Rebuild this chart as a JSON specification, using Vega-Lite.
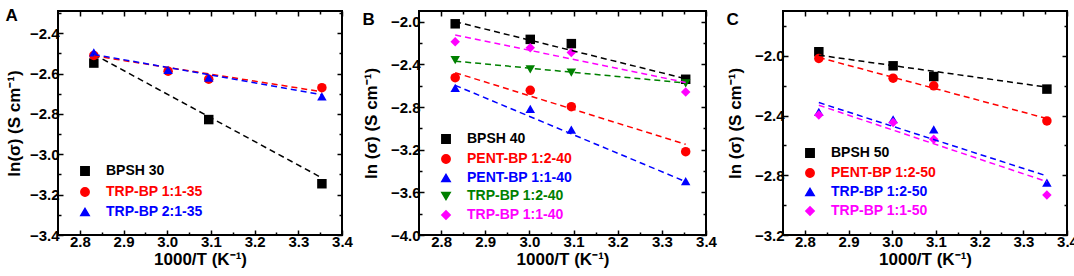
{
  "$schema": "https://vega.github.io/schema/vega-lite/v6.json",
  "padding": {"left": 4, "top": 5, "right": 10, "bottom": 0},
  "spacing": 7,
  "resolve": {"scale": {"color": "independent", "shape": "independent"}, "legend": {"color": "independent", "shape": "independent"}},
  "datasets": {
    "A_pts": [
      {"s": "BPSH 30", "x": 2.832, "y": -2.548},
      {"s": "BPSH 30", "x": 3.095, "y": -2.828},
      {"s": "BPSH 30", "x": 3.354, "y": -3.146},
      {"s": "TRP-BP 1:1-35", "x": 2.832, "y": -2.51},
      {"s": "TRP-BP 1:1-35", "x": 3.002, "y": -2.588},
      {"s": "TRP-BP 1:1-35", "x": 3.095, "y": -2.628},
      {"s": "TRP-BP 1:1-35", "x": 3.354, "y": -2.67},
      {"s": "TRP-BP 2:1-35", "x": 2.832, "y": -2.495},
      {"s": "TRP-BP 2:1-35", "x": 3.002, "y": -2.582},
      {"s": "TRP-BP 2:1-35", "x": 3.095, "y": -2.62},
      {"s": "TRP-BP 2:1-35", "x": 3.354, "y": -2.713}
    ],
    "A_fit": [
      {"s": "BPSH 30", "x": 2.832, "y": -2.505},
      {"s": "BPSH 30", "x": 3.354, "y": -3.117},
      {"s": "TRP-BP 1:1-35", "x": 2.832, "y": -2.512},
      {"s": "TRP-BP 1:1-35", "x": 3.354, "y": -2.69},
      {"s": "TRP-BP 2:1-35", "x": 2.832, "y": -2.505},
      {"s": "TRP-BP 2:1-35", "x": 3.354, "y": -2.705}
    ],
    "B_pts": [
      {"s": "BPSH 40", "x": 2.832, "y": -2.02},
      {"s": "BPSH 40", "x": 3.002, "y": -2.166},
      {"s": "BPSH 40", "x": 3.095, "y": -2.206},
      {"s": "BPSH 40", "x": 3.354, "y": -2.54},
      {"s": "PENT-BP 1:2-40", "x": 2.832, "y": -2.525},
      {"s": "PENT-BP 1:2-40", "x": 3.002, "y": -2.644},
      {"s": "PENT-BP 1:2-40", "x": 3.095, "y": -2.797},
      {"s": "PENT-BP 1:2-40", "x": 3.354, "y": -3.219},
      {"s": "PENT-BP 1:1-40", "x": 2.832, "y": -2.62},
      {"s": "PENT-BP 1:1-40", "x": 3.002, "y": -2.818},
      {"s": "PENT-BP 1:1-40", "x": 3.095, "y": -3.012},
      {"s": "PENT-BP 1:1-40", "x": 3.354, "y": -3.495},
      {"s": "TRP-BP 1:2-40", "x": 2.832, "y": -2.36},
      {"s": "TRP-BP 1:2-40", "x": 3.002, "y": -2.447},
      {"s": "TRP-BP 1:2-40", "x": 3.095, "y": -2.478},
      {"s": "TRP-BP 1:2-40", "x": 3.354, "y": -2.578},
      {"s": "TRP-BP 1:1-40", "x": 2.832, "y": -2.188},
      {"s": "TRP-BP 1:1-40", "x": 3.002, "y": -2.244},
      {"s": "TRP-BP 1:1-40", "x": 3.095, "y": -2.29},
      {"s": "TRP-BP 1:1-40", "x": 3.354, "y": -2.66}
    ],
    "B_fit": [
      {"s": "BPSH 40", "x": 2.832, "y": -2.0},
      {"s": "BPSH 40", "x": 3.354, "y": -2.535},
      {"s": "PENT-BP 1:2-40", "x": 2.832, "y": -2.478},
      {"s": "PENT-BP 1:2-40", "x": 3.354, "y": -3.15},
      {"s": "PENT-BP 1:1-40", "x": 2.832, "y": -2.597},
      {"s": "PENT-BP 1:1-40", "x": 3.354, "y": -3.5},
      {"s": "TRP-BP 1:2-40", "x": 2.832, "y": -2.37},
      {"s": "TRP-BP 1:2-40", "x": 3.354, "y": -2.575},
      {"s": "TRP-BP 1:1-40", "x": 2.832, "y": -2.125},
      {"s": "TRP-BP 1:1-40", "x": 3.354, "y": -2.57}
    ],
    "C_pts": [
      {"s": "BPSH 50", "x": 2.832, "y": -1.973},
      {"s": "BPSH 50", "x": 3.002, "y": -2.067},
      {"s": "BPSH 50", "x": 3.095, "y": -2.139},
      {"s": "BPSH 50", "x": 3.354, "y": -2.223},
      {"s": "PENT-BP 1:2-50", "x": 2.832, "y": -2.018},
      {"s": "PENT-BP 1:2-50", "x": 3.002, "y": -2.15},
      {"s": "PENT-BP 1:2-50", "x": 3.095, "y": -2.201},
      {"s": "PENT-BP 1:2-50", "x": 3.354, "y": -2.436},
      {"s": "TRP-BP 1:2-50", "x": 2.832, "y": -2.375},
      {"s": "TRP-BP 1:2-50", "x": 3.002, "y": -2.425},
      {"s": "TRP-BP 1:2-50", "x": 3.095, "y": -2.492},
      {"s": "TRP-BP 1:2-50", "x": 3.354, "y": -2.849},
      {"s": "TRP-BP 1:1-50", "x": 2.832, "y": -2.396},
      {"s": "TRP-BP 1:1-50", "x": 3.002, "y": -2.447},
      {"s": "TRP-BP 1:1-50", "x": 3.095, "y": -2.559},
      {"s": "TRP-BP 1:1-50", "x": 3.354, "y": -2.932}
    ],
    "C_fit": [
      {"s": "BPSH 50", "x": 2.832, "y": -1.996},
      {"s": "BPSH 50", "x": 3.354, "y": -2.21},
      {"s": "PENT-BP 1:2-50", "x": 2.832, "y": -2.011},
      {"s": "PENT-BP 1:2-50", "x": 3.354, "y": -2.42},
      {"s": "TRP-BP 1:2-50", "x": 2.832, "y": -2.313},
      {"s": "TRP-BP 1:2-50", "x": 3.354, "y": -2.805},
      {"s": "TRP-BP 1:1-50", "x": 2.832, "y": -2.331},
      {"s": "TRP-BP 1:1-50", "x": 3.354, "y": -2.843}
    ]
  },
  "hconcat": [
    {
      "width": 284, "height": 224,
      "title": {"text": "A"},
      "layer": [
        {
          "data": {"name": "A_pts"},
          "mark": {"type": "point", "filled": true, "size": 90, "opacity": 1},
          "encoding": {
            "x": {"field": "x", "type": "quantitative", "scale": {"domain": [2.75, 3.4], "nice": false, "zero": false},
              "axis": {"orient": "bottom", "title": "1000/T (K⁻¹)", "titlePadding": 0, "values": [2.8, 2.85, 2.9, 2.95, 3.0, 3.05, 3.1, 3.15, 3.2, 3.25, 3.3, 3.35, 3.4],
                "labelExpr": "abs(datum.value*10-round(datum.value*10))<0.001 ? format(datum.value,'.1f') : ''",
                "tickSize": {"condition": {"test": "abs(datum.value*10-round(datum.value*10))<0.001", "value": -5}, "value": -3}}},
            "y": {"field": "y", "type": "quantitative", "scale": {"domain": [-3.4, -2.29], "nice": false, "zero": false},
              "axis": {"orient": "left", "title": "ln(σ) (S cm⁻¹)", "values": [-3.4, -3.3, -3.2, -3.1, -3.0, -2.9, -2.8, -2.7, -2.6, -2.5, -2.4, -2.3],
                "labelExpr": "abs(datum.value*5-round(datum.value*5))<0.001 ? format(datum.value,'.1f') : ''",
                "tickSize": {"condition": {"test": "abs(datum.value*5-round(datum.value*5))<0.001", "value": -5}, "value": -3}}},
            "color": {"field": "s", "type": "nominal", "sort": null,
              "scale": {"domain": ["BPSH 30", "TRP-BP 1:1-35", "TRP-BP 2:1-35"], "range": ["#000000", "#ff0000", "#0000ff"]},
              "legend": {"title": null, "offset": 16, "symbolOffset": 4, "labelColor": {"expr": "datum.label == 'TRP-BP 1:1-35' ? '#ff0000' : datum.label == 'TRP-BP 2:1-35' ? '#0000ff' : '#000000'"}}},
            "shape": {"field": "s", "type": "nominal", "sort": null,
              "scale": {"domain": ["BPSH 30", "TRP-BP 1:1-35", "TRP-BP 2:1-35"], "range": ["square", "circle", "triangle-up"]},
              "legend": {"title": null, "offset": 16, "symbolOffset": 4, "labelColor": {"expr": "datum.label == 'TRP-BP 1:1-35' ? '#ff0000' : datum.label == 'TRP-BP 2:1-35' ? '#0000ff' : '#000000'"}}}
          }
        },
        {
          "data": {"name": "A_fit"},
          "mark": {"type": "line", "strokeDash": [6, 4], "strokeWidth": 1.5},
          "encoding": {
            "x": {"field": "x", "type": "quantitative", "axis": {"orient": "top", "title": null, "labels": false, "values": [2.8, 2.85, 2.9, 2.95, 3.0, 3.05, 3.1, 3.15, 3.2, 3.25, 3.3, 3.35, 3.4],
                "tickSize": {"condition": {"test": "abs(datum.value*10-round(datum.value*10))<0.001", "value": -5}, "value": -3}}},
            "y": {"field": "y", "type": "quantitative", "axis": {"orient": "right", "title": null, "labels": false, "values": [-3.4, -3.3, -3.2, -3.1, -3.0, -2.9, -2.8, -2.7, -2.6, -2.5, -2.4, -2.3],
                "tickSize": {"condition": {"test": "abs(datum.value*5-round(datum.value*5))<0.001", "value": -5}, "value": -3}}},
            "color": {"field": "s", "type": "nominal", "legend": null},
            "detail": {"field": "s"}
          }
        }
      ]
    },
    {
      "width": 287, "height": 224,
      "title": {"text": "B"},
      "layer": [
        {
          "data": {"name": "B_pts"},
          "mark": {"type": "point", "filled": true, "size": 90, "opacity": 1},
          "encoding": {
            "x": {"field": "x", "type": "quantitative", "scale": {"domain": [2.75, 3.4], "nice": false, "zero": false},
              "axis": {"orient": "bottom", "title": "1000/T (K⁻¹)", "titlePadding": 0, "values": [2.8, 2.85, 2.9, 2.95, 3.0, 3.05, 3.1, 3.15, 3.2, 3.25, 3.3, 3.35, 3.4],
                "labelExpr": "abs(datum.value*10-round(datum.value*10))<0.001 ? format(datum.value,'.1f') : ''",
                "tickSize": {"condition": {"test": "abs(datum.value*10-round(datum.value*10))<0.001", "value": -5}, "value": -3}}},
            "y": {"field": "y", "type": "quantitative", "scale": {"domain": [-4.0, -1.9], "nice": false, "zero": false},
              "axis": {"orient": "left", "title": "ln (σ) (S cm⁻¹)", "titlePadding": 10, "values": [-4.0, -3.8, -3.6, -3.4, -3.2, -3.0, -2.8, -2.6, -2.4, -2.2, -2.0],
                "labelExpr": "abs(datum.value*2.5-round(datum.value*2.5))<0.001 ? format(datum.value,'.1f') : ''",
                "tickSize": {"condition": {"test": "abs(datum.value*2.5-round(datum.value*2.5))<0.001", "value": -5}, "value": -3}}},
            "color": {"field": "s", "type": "nominal", "sort": null,
              "scale": {"domain": ["BPSH 40", "PENT-BP 1:2-40", "PENT-BP 1:1-40", "TRP-BP 1:2-40", "TRP-BP 1:1-40"], "range": ["#000000", "#ff0000", "#0000ff", "#008000", "#ff00ff"]},
              "legend": {"title": null, "rowPadding": 4, "labelColor": {"expr": "datum.label == 'PENT-BP 1:2-40' ? '#ff0000' : datum.label == 'PENT-BP 1:1-40' ? '#0000ff' : datum.label == 'TRP-BP 1:2-40' ? '#008000' : datum.label == 'TRP-BP 1:1-40' ? '#ff00ff' : '#000000'"}}},
            "shape": {"field": "s", "type": "nominal", "sort": null,
              "scale": {"domain": ["BPSH 40", "PENT-BP 1:2-40", "PENT-BP 1:1-40", "TRP-BP 1:2-40", "TRP-BP 1:1-40"], "range": ["square", "circle", "triangle-up", "triangle-down", "diamond"]},
              "legend": {"title": null, "rowPadding": 4, "labelColor": {"expr": "datum.label == 'PENT-BP 1:2-40' ? '#ff0000' : datum.label == 'PENT-BP 1:1-40' ? '#0000ff' : datum.label == 'TRP-BP 1:2-40' ? '#008000' : datum.label == 'TRP-BP 1:1-40' ? '#ff00ff' : '#000000'"}}}
          }
        },
        {
          "data": {"name": "B_fit"},
          "mark": {"type": "line", "strokeDash": [6, 4], "strokeWidth": 1.5},
          "encoding": {
            "x": {"field": "x", "type": "quantitative", "axis": {"orient": "top", "title": null, "labels": false, "values": [2.8, 2.85, 2.9, 2.95, 3.0, 3.05, 3.1, 3.15, 3.2, 3.25, 3.3, 3.35, 3.4],
                "tickSize": {"condition": {"test": "abs(datum.value*10-round(datum.value*10))<0.001", "value": -5}, "value": -3}}},
            "y": {"field": "y", "type": "quantitative", "axis": {"orient": "right", "title": null, "labels": false, "values": [-4.0, -3.8, -3.6, -3.4, -3.2, -3.0, -2.8, -2.6, -2.4, -2.2, -2.0],
                "tickSize": {"condition": {"test": "abs(datum.value*2.5-round(datum.value*2.5))<0.001", "value": -5}, "value": -3}}},
            "color": {"field": "s", "type": "nominal", "legend": null},
            "detail": {"field": "s"}
          }
        }
      ]
    },
    {
      "width": 284, "height": 224,
      "title": {"text": "C"},
      "layer": [
        {
          "data": {"name": "C_pts"},
          "mark": {"type": "point", "filled": true, "size": 90, "opacity": 1},
          "encoding": {
            "x": {"field": "x", "type": "quantitative", "scale": {"domain": [2.75, 3.4], "nice": false, "zero": false},
              "axis": {"orient": "bottom", "title": "1000/T (K⁻¹)", "titlePadding": 0, "values": [2.8, 2.85, 2.9, 2.95, 3.0, 3.05, 3.1, 3.15, 3.2, 3.25, 3.3, 3.35, 3.4],
                "labelExpr": "abs(datum.value*10-round(datum.value*10))<0.001 ? format(datum.value,'.1f') : ''",
                "tickSize": {"condition": {"test": "abs(datum.value*10-round(datum.value*10))<0.001", "value": -5}, "value": -3}}},
            "y": {"field": "y", "type": "quantitative", "scale": {"domain": [-3.2, -1.7], "nice": false, "zero": false},
              "axis": {"orient": "left", "title": "ln (σ) (S cm⁻¹)", "titlePadding": 10, "values": [-3.2, -3.0, -2.8, -2.6, -2.4, -2.2, -2.0, -1.8],
                "labelExpr": "abs(datum.value*2.5-round(datum.value*2.5))<0.001 ? format(datum.value,'.1f') : ''",
                "tickSize": {"condition": {"test": "abs(datum.value*2.5-round(datum.value*2.5))<0.001", "value": -5}, "value": -3}}},
            "color": {"field": "s", "type": "nominal", "sort": null,
              "scale": {"domain": ["BPSH 50", "PENT-BP 1:2-50", "TRP-BP 1:2-50", "TRP-BP 1:1-50"], "range": ["#000000", "#ff0000", "#0000ff", "#ff00ff"]},
              "legend": {"title": null, "rowPadding": 4, "offset": 16, "symbolOffset": 4, "labelColor": {"expr": "datum.label == 'PENT-BP 1:2-50' ? '#ff0000' : datum.label == 'TRP-BP 1:2-50' ? '#0000ff' : datum.label == 'TRP-BP 1:1-50' ? '#ff00ff' : '#000000'"}}},
            "shape": {"field": "s", "type": "nominal", "sort": null,
              "scale": {"domain": ["BPSH 50", "PENT-BP 1:2-50", "TRP-BP 1:2-50", "TRP-BP 1:1-50"], "range": ["square", "circle", "triangle-up", "diamond"]},
              "legend": {"title": null, "rowPadding": 4, "offset": 16, "symbolOffset": 4, "labelColor": {"expr": "datum.label == 'PENT-BP 1:2-50' ? '#ff0000' : datum.label == 'TRP-BP 1:2-50' ? '#0000ff' : datum.label == 'TRP-BP 1:1-50' ? '#ff00ff' : '#000000'"}}}
          }
        },
        {
          "data": {"name": "C_fit"},
          "mark": {"type": "line", "strokeDash": [6, 4], "strokeWidth": 1.5},
          "encoding": {
            "x": {"field": "x", "type": "quantitative", "axis": {"orient": "top", "title": null, "labels": false, "values": [2.8, 2.85, 2.9, 2.95, 3.0, 3.05, 3.1, 3.15, 3.2, 3.25, 3.3, 3.35, 3.4],
                "tickSize": {"condition": {"test": "abs(datum.value*10-round(datum.value*10))<0.001", "value": -5}, "value": -3}}},
            "y": {"field": "y", "type": "quantitative", "axis": {"orient": "right", "title": null, "labels": false, "values": [-3.2, -3.0, -2.8, -2.6, -2.4, -2.2, -2.0, -1.8],
                "tickSize": {"condition": {"test": "abs(datum.value*2.5-round(datum.value*2.5))<0.001", "value": -5}, "value": -3}}},
            "color": {"field": "s", "type": "nominal", "legend": null},
            "detail": {"field": "s"}
          }
        }
      ]
    }
  ],
  "config": {
    "font": "Liberation Sans",
    "view": {"stroke": "#000000", "strokeWidth": 2},
    "axis": {"domain": false, "grid": false, "tickColor": "#000000", "tickWidth": 1.5, "labelColor": "#000000", "labelFontSize": 15, "labelFontWeight": "bold", "labelPadding": 4, "titleFontSize": 17, "titleFontWeight": "bold", "titleColor": "#000000", "labelFlush": false, "labelOverlap": false, "labelBound": false, "titlePadding": 6},
    "legend": {"orient": "bottom-left", "offset": 12, "padding": 0, "labelFontSize": 14, "labelFontWeight": "bold", "symbolSize": 70, "rowPadding": 5, "symbolOffset": 8, "labelOffset": 14},
    "title": {"anchor": "start", "frame": "bounds", "fontSize": 17, "fontWeight": "bold", "color": "#000000", "offset": -19, "baseline": "top"}
  }
}
